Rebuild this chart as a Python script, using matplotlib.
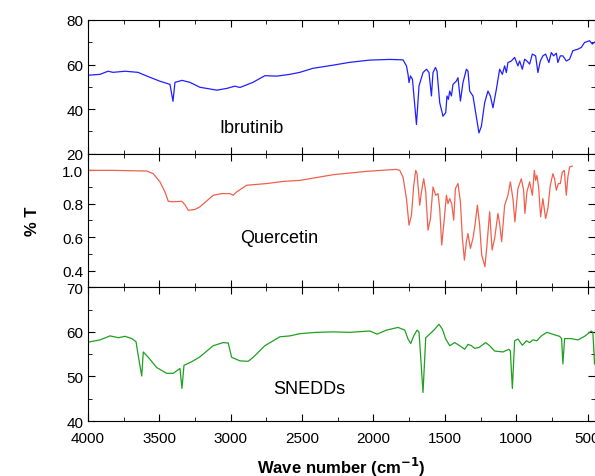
import matplotlib
matplotlib.use('Agg')
import matplotlib.pyplot as plt
from matplotlib.ticker import MultipleLocator

plt.rcParams['font.family'] = ['Liberation Sans', 'DejaVu Sans']

# Ibrutinib spectrum (wave number, %T)
ibr_wn = [4000, 3916, 3860, 3825, 3741, 3650, 3587, 3496, 3426, 3405, 3391, 3342, 3286, 3216,
          3097, 3027, 2971, 2936, 2845, 2761, 2677, 2586, 2516, 2425, 2285, 2166, 2026, 1886,
          1793, 1769, 1758, 1751, 1741, 1727, 1699, 1681, 1653, 1629, 1611, 1594, 1583, 1566,
          1555, 1536, 1513, 1494, 1485, 1475, 1466, 1454, 1443, 1419, 1408, 1391, 1373, 1349,
          1338, 1326, 1303, 1284, 1261, 1244, 1221, 1198, 1181, 1163, 1139, 1116, 1097, 1081,
          1069, 1058, 1034, 1011, 988, 976, 957, 941, 925, 906, 887, 864, 848, 831, 813, 794,
          771, 754, 738, 719, 708, 691, 673, 649, 626, 603, 568, 544, 521, 486, 467, 451]
ibr_t = [55.2, 55.6, 57.0, 56.5, 57.0, 56.5, 54.8, 52.5, 51.1, 43.5, 52.0, 52.9, 52.0, 49.8,
         48.5, 49.3, 50.3, 49.7, 52.0, 55.0, 54.8, 55.6, 56.5, 58.3, 59.7, 61.0, 62.0, 62.3,
         62.1, 59.4, 55.6, 51.9, 54.9, 53.4, 33.1, 50.4, 56.4, 57.9, 56.4, 45.9, 56.4, 58.7,
         57.1, 42.9, 36.8, 38.4, 45.9, 44.4, 48.1, 45.9, 51.1, 52.6, 54.1, 43.6, 51.9, 57.9,
         57.1, 48.1, 45.9, 38.4, 29.3, 32.3, 42.9, 48.1, 45.9, 40.6, 48.9, 57.9, 55.6, 59.4,
         56.4, 60.9, 61.6, 63.2, 59.4, 61.6, 57.9, 62.4, 61.6, 60.2, 64.7, 63.9, 56.4, 61.6,
         63.9, 64.7, 60.9, 65.4, 63.9, 65.1, 60.9, 63.9, 63.9, 61.6, 62.4, 66.2, 66.9, 67.7,
         69.9, 70.7, 69.2, 70.0]

# Quercetin spectrum (wave number, T)
que_wn = [4000, 3823, 3589, 3543, 3496, 3461, 3438, 3403, 3344, 3321, 3298, 3251, 3216, 3123,
          3064, 3006, 2983, 2959, 2889, 2749, 2632, 2516, 2283, 2049, 1839, 1816, 1793, 1769,
          1751, 1734, 1718, 1704, 1695, 1676, 1664, 1648, 1634, 1618, 1601, 1583, 1564, 1548,
          1536, 1522, 1508, 1489, 1478, 1466, 1452, 1438, 1426, 1408, 1391, 1377, 1363, 1349,
          1338, 1321, 1303, 1289, 1272, 1256, 1242, 1219, 1205, 1186, 1169, 1151, 1128, 1116,
          1102, 1081, 1058, 1041, 1023, 1009, 988, 964, 948, 939, 925, 906, 887, 873, 864, 855,
          843, 829, 813, 794, 778, 761, 743, 731, 719, 705, 691, 677, 663, 649, 638, 626, 607]
que_t = [1.0, 1.0, 0.996, 0.98, 0.931, 0.871, 0.815, 0.812, 0.815, 0.795, 0.761, 0.766, 0.782,
         0.851, 0.861, 0.861, 0.851, 0.871, 0.911, 0.921, 0.934, 0.94, 0.974, 0.994, 1.006,
         1.0, 0.96, 0.831, 0.672, 0.732, 0.911, 1.0, 0.98, 0.791, 0.871, 0.95, 0.871, 0.642,
         0.712, 0.901, 0.851, 0.861, 0.772, 0.553, 0.672, 0.851, 0.801, 0.831, 0.801, 0.702,
         0.891, 0.921, 0.811, 0.593, 0.463, 0.573, 0.622, 0.533, 0.593, 0.672, 0.791, 0.672,
         0.493, 0.424, 0.553, 0.752, 0.523, 0.593, 0.742, 0.682, 0.573, 0.791, 0.851, 0.931,
         0.831, 0.692, 0.891, 0.95, 0.881, 0.742, 0.871, 0.931, 0.851, 1.0, 0.94, 0.97, 0.901,
         0.722, 0.831, 0.712, 0.772, 0.911, 0.98, 0.95, 0.881, 0.921, 0.921, 0.99, 1.0, 0.851,
         0.96, 1.02, 1.026]

# SNEDDs spectrum (wave number, %T)
sne_wn = [4000, 3916, 3846, 3788, 3741, 3694, 3664, 3648, 3624, 3613, 3578, 3519, 3449, 3403,
          3356, 3342, 3328, 3274, 3216, 3123, 3053, 3018, 2994, 2936, 2878, 2843, 2761, 2656,
          2586, 2516, 2399, 2283, 2166, 2026, 1975, 1909, 1828, 1781, 1758, 1739, 1718, 1695,
          1681, 1653, 1634, 1606, 1571, 1541, 1517, 1494, 1466, 1431, 1396, 1361, 1338, 1314,
          1291, 1261, 1214, 1186, 1151, 1093, 1051, 1041, 1027, 1011, 988, 957, 929, 906, 883,
          855, 824, 785, 747, 696, 682, 673, 661, 614, 568, 521, 474, 463, 451]
sne_t = [57.7, 58.2, 59.1, 58.7, 59.0, 58.5, 57.8, 54.6, 50.1, 55.5, 54.3, 52.0, 50.7, 50.7,
         51.8, 47.3, 52.5, 53.3, 54.4, 56.9, 57.6, 57.5, 54.3, 53.5, 53.4, 54.3, 56.9, 58.9,
         59.1, 59.6, 59.9, 60.0, 59.9, 60.2, 59.5, 60.4, 61.0, 60.4, 58.4, 57.4, 59.1, 60.4,
         60.0, 46.4, 58.7, 59.5, 60.6, 61.7, 60.6, 58.4, 56.9, 57.6, 56.9, 56.1, 57.2, 56.9,
         56.3, 56.5, 57.6, 56.9, 55.7, 55.5, 56.1, 55.7, 47.3, 58.0, 58.4, 57.0, 58.0, 57.6,
         58.2, 58.0, 59.1, 59.9, 59.5, 59.0, 58.5, 52.8, 58.5, 58.5, 58.2, 59.0, 60.2, 59.9, 52.8]

fig, axes = plt.subplots(3, 1, figsize=(5.95, 4.77), dpi=100, sharex=True)
fig.subplots_adjust(left=0.148, right=0.9995, top=0.956, bottom=0.1153, hspace=0)

panels = [
    (ibr_wn, ibr_t, '#2020ff', 'Ibrutinib', (20, 80), 20, 10, (3080, 31.7)),
    (que_wn, que_t, '#f0604e', 'Quercetin', (0.3, 1.1), 0.2, 0.1, (2935, 0.6)),
    (sne_wn, sne_t, '#20a020', 'SNEDDs', (40, 70), 10, 5, (2705, 47.2)),
]

for ax, (wn, t, col, name, ylim, major, minor, pos) in zip(axes, panels):
    ax.plot(wn, t, color=col, lw=0.9)
    ax.set_ylim(*ylim)
    ax.yaxis.set_major_locator(MultipleLocator(major))
    ax.yaxis.set_minor_locator(MultipleLocator(minor))
    ax.xaxis.set_major_locator(MultipleLocator(500))
    ax.xaxis.set_minor_locator(MultipleLocator(250))
    ax.tick_params(which='both', direction='in', top=True, right=True, labelsize=11)
    ax.tick_params(which='major', length=5)
    ax.tick_params(which='minor', length=3)
    ax.text(pos[0], pos[1], name, fontsize=13, va='center', ha='left')

axes[1].set_yticks([0.4, 0.6, 0.8, 1.0])
axes[1].set_yticklabels(['0.4', '0.6', '0.8', '1.0'])
axes[0].set_yticks([20, 40, 60, 80])
axes[2].set_yticks([40, 50, 60, 70])
axes[2].set_xlim(4000, 450)
axes[2].tick_params(axis='x', which='major', pad=7)
axes[2].set_xlabel('Wave number (cm$^{\\mathbf{-1}}$)', fontsize=12, fontweight='bold', labelpad=7)
axes[1].set_ylabel('% T', fontsize=12, fontweight='bold', labelpad=16)

plt.savefig('out.png', dpi=100)
